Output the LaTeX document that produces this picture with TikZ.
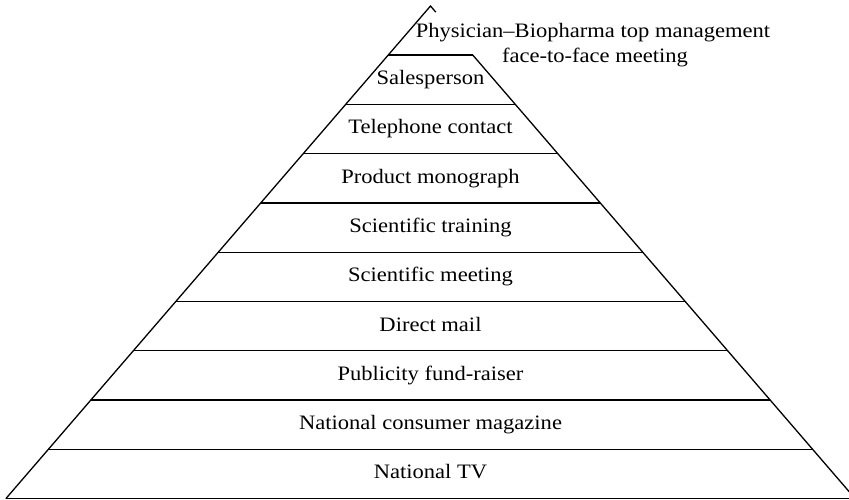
\documentclass[tikz,border=0pt]{standalone}
\usepackage{fontspec}
\setmainfont[FakeStretch=1.1]{Liberation Serif}
\usetikzlibrary{calc}
\begin{document}
\begin{tikzpicture}[x=1pt,y=-1pt,
  pyr/.style={draw=black, line width=1.3pt, line join=miter},
  lbl/.style={anchor=base, inner sep=0pt, font=\fontsize{20.5}{24}\selectfont}]
\useasboundingbox (0,0) rectangle (849,500);
\clip (0,0) rectangle (849,500);
\coordinate (apex) at (430.5,6);
\coordinate (bl) at (5.8,498.7);
\coordinate (br) at (855.2,498.7);
\coordinate (stub) at ($(apex)!0.0125!(br)$);
\foreach \k in {0,...,9}{
  \pgfmathsetmacro\tt{(49+49.3*\k)/492.7}
  \coordinate (L\k) at ($(apex)!\tt!(bl)$);
  \coordinate (R\k) at ($(apex)!\tt!(br)$);
}
% outline
\draw[pyr] (bl) -- (apex) -- (stub);
\draw[pyr] (R0) -- (br);
\foreach \k in {0,...,9}{
  \draw[pyr] (L\k) -- (R\k);
}
% labels
\foreach \k/\txt in {0/Salesperson, 1/Telephone contact, 2/Product monograph,
  3/Scientific training, 4/Scientific meeting, 5/Direct mail,
  6/Publicity fund-raiser, 7/National consumer magazine, 8/National TV}{
  \node[lbl] (n\k) at ($(L\k)!0.5!(R\k)+(0,29.5)$) {\txt};
}
\node[lbl] (top1) at (593,37.7) {Physician–Biopharma top management};
\node[lbl] (top2) at (595,63) {face-to-face meeting};
\end{tikzpicture}
\end{document}
